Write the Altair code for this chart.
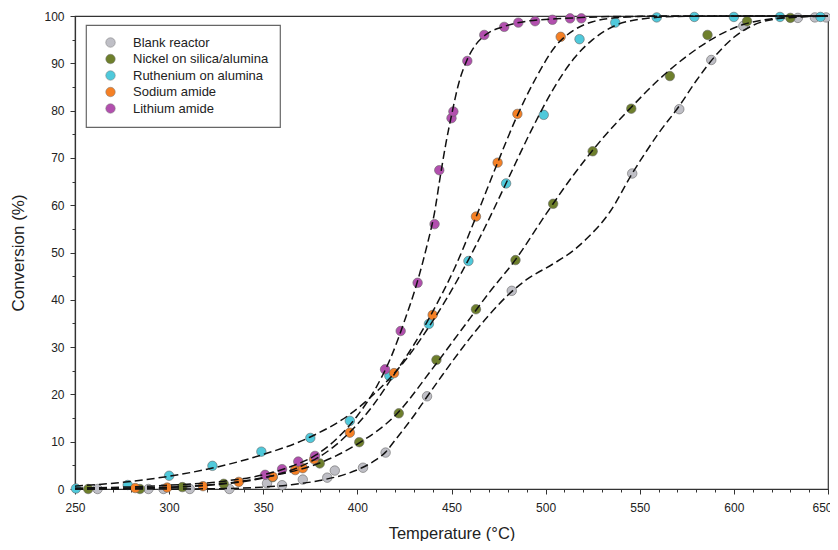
import altair as alt
import pandas as pd

FONT = "Liberation Sans"

series_names = ["Blank reactor", "Nickel on silica/alumina", "Ruthenium on alumina",
                "Sodium amide", "Lithium amide"]
series_colors = ["#BFBFC6", "#6E7F2C", "#4FC9DB", "#F58025", "#B24FAE"]

# measured points
blank_T = [262, 289, 297, 311, 332, 352, 360, 371, 384, 388, 403, 415, 437, 482, 546, 571, 588, 605, 634, 643, 649]
blank_C = [0.0, 0.0, 0.0, 0.0, 0.0, 1.2, 0.8, 2.0, 2.4, 3.9, 4.5, 7.7, 19.6, 41.9, 66.7, 80.3, 90.7, 97.9, 99.6, 99.7, 99.7]

nickel_T = [257, 284.5, 307, 329, 355, 380, 401, 422, 442, 463, 484, 504, 525, 545.5, 566, 586, 607, 630]
nickel_C = [0.0, 0.0, 0.4, 1.1, 2.5, 5.4, 9.9, 16.0, 27.3, 38.0, 48.4, 60.3, 71.4, 80.4, 87.3, 96.0, 98.9, 99.6]

ruth_T = [250.5, 278, 300, 323, 349, 375, 396, 417, 438, 459, 479, 499, 518, 537, 559, 579, 600, 624.5, 646]
ruth_C = [0.1, 0.85, 2.8, 4.9, 7.9, 10.8, 14.4, 23.9, 34.9, 48.2, 64.6, 79.1, 95.1, 98.6, 99.7, 99.8, 99.8, 99.8, 99.8]

sodium_T = [282, 299, 318, 337, 355, 367, 371, 377, 396, 419.5, 440, 463, 474.5, 485, 508]
sodium_C = [0.2, 0.3, 0.6, 1.5, 2.6, 4.0, 4.4, 6.3, 11.9, 24.5, 36.8, 57.6, 69.0, 79.3, 95.6]

lith_T = [351, 360, 368.6, 377.5, 414.7, 423, 432, 441, 443.5, 450, 451, 458.4, 467.4, 478, 485.5, 494.4, 503.6, 513, 519]
lith_C = [3.0, 4.2, 5.8, 7.0, 25.3, 33.4, 43.6, 56.0, 67.4, 78.4, 79.8, 90.5, 96.0, 97.7, 98.6, 98.9, 99.2, 99.5, 99.5]

# dashed fitted curves
blank_fit_T = [250, 300, 330, 350, 365, 380, 395, 403, 410, 415, 420, 430, 437, 445, 460, 470, 480, 490, 504, 515, 522, 534, 546, 560, 571, 580, 590, 600, 610, 625, 650]
blank_fit_C = [0, 0, 0.1, 0.4, 0.9, 1.8, 3.3, 4.6, 6.2, 7.8, 10.3, 15.5, 19.5, 24, 32, 36.8, 41, 44.3, 47.6, 50.5, 53, 58.5, 66.7, 75.2, 81, 86.3, 91.5, 95.5, 98, 99.5, 100]

nickel_fit_T = [250, 280, 305, 330, 355, 380, 400, 420, 440, 455, 470, 484, 500, 515, 530, 545, 560, 575, 590, 605, 620, 635, 650]
nickel_fit_C = [0, 0.1, 0.4, 1.2, 2.8, 5.5, 9.5, 15.5, 25.5, 33.5, 41.5, 48.5, 58, 66.5, 74, 80.5, 86.5, 91.5, 95.5, 98.2, 99.4, 99.9, 100]

ruth_fit_T = [250, 275, 300, 325, 350, 375, 395, 410, 425, 440, 455, 468, 480, 492, 504, 515, 525, 537, 550, 570, 600, 650]
ruth_fit_C = [0.6, 1.4, 2.7, 4.6, 7.3, 11, 15.5, 20.5, 27, 35.5, 45.5, 55.5, 65.5, 75.5, 84.5, 91, 95, 98, 99.3, 99.9, 100, 100]

sodium_fit_T = [250, 280, 300, 320, 340, 355, 370, 385, 396, 408, 420, 430, 440, 452, 463, 474, 485, 495, 505, 515, 525, 540, 560, 650]
sodium_fit_C = [0.05, 0.2, 0.4, 0.8, 1.6, 2.8, 4.8, 8.2, 12, 17.5, 24.5, 30.5, 37.5, 47, 57.5, 68.5, 79, 87, 93.5, 97, 98.8, 99.7, 100, 100]

lith_fit_T = [250, 300, 330, 350, 365, 378, 390, 400, 410, 418, 425, 432, 437, 441, 444, 447, 450, 454, 458, 463, 468, 478, 490, 510, 540, 650]
lith_fit_C = [0.2, 0.8, 1.7, 3.0, 4.8, 7.2, 11, 15.5, 21.5, 28, 35.5, 44, 51.5, 58.5, 66, 73, 79, 86, 90.5, 94, 96, 97.8, 98.9, 99.5, 99.9, 100]

pts = [(blank_T, blank_C), (nickel_T, nickel_C), (ruth_T, ruth_C), (sodium_T, sodium_C), (lith_T, lith_C)]
fits = [(blank_fit_T, blank_fit_C), (nickel_fit_T, nickel_fit_C), (ruth_fit_T, ruth_fit_C),
        (sodium_fit_T, sodium_fit_C), (lith_fit_T, lith_fit_C)]

rows = []
for name, (ts, cs) in zip(series_names, pts):
    for t, c in zip(ts, cs):
        rows.append({"series": name, "T": t, "C": c})
points_df = pd.DataFrame(rows)

rows = []
for name, (ts, cs) in zip(series_names, fits):
    for t, c in zip(ts, cs):
        rows.append({"series": name, "T": t, "C": c})
fit_df = pd.DataFrame(rows)

x_enc = alt.X(
    "T:Q",
    scale=alt.Scale(domain=[250, 650], nice=False, zero=False),
    axis=alt.Axis(
        title="Temperature (°C)",
        values=list(range(250, 651, 10)),
        labelExpr="datum.value % 50 === 0 ? datum.label : ''",
        tickSize={"condition": {"test": "datum.value % 50 === 0", "value": 5}, "value": 3},
        labelOffset={"condition": {"test": "datum.value === 650", "value": -6}, "value": 0},
        labelFlush=False, labelOverlap=False, grid=False,
        domainColor="#333", tickColor="#333", domainWidth=1.2,
        labelFont=FONT, labelFontSize=12, labelColor="#222", labelPadding=8,
        titleFont=FONT, titleFontSize=16.5, titleFontWeight="normal", titleColor="#222",
        titlePadding=12,
    ),
)
y_enc = alt.Y(
    "C:Q",
    scale=alt.Scale(domain=[0, 100], nice=False),
    axis=alt.Axis(
        title="Conversion (%)",
        values=list(range(0, 101, 5)),
        labelExpr="datum.value % 10 === 0 ? datum.label : ''",
        tickSize={"condition": {"test": "datum.value % 10 === 0", "value": 5}, "value": 3},
        labelOverlap=False, grid=False,
        domainColor="#333", tickColor="#333", domainWidth=1.2,
        labelFont=FONT, labelFontSize=12, labelColor="#222", labelPadding=6,
        titleFont=FONT, titleFontSize=17, titleFontWeight="normal", titleColor="#222",
        titlePadding=16,
    ),
)

points = alt.Chart(points_df).mark_circle(size=90, opacity=1, stroke="#666", strokeWidth=0.6).encode(
    x=x_enc,
    y=y_enc,
    color=alt.Color(
        "series:N",
        scale=alt.Scale(domain=series_names, range=series_colors),
        sort=series_names,
        legend=alt.Legend(
            title=None, orient="none", legendX=11, legendY=9, direction="vertical",
            symbolType="circle", symbolSize=90, symbolStrokeColor="#777", symbolStrokeWidth=0.5,
            symbolOpacity=1, labelFont=FONT, labelFontSize=13, labelColor="#222",
            padding=11, rowPadding=2.5, symbolOffset=7, labelOffset=16,
            strokeColor="#666", fillColor="white",
        ),
    ),
)

lines = alt.Chart(fit_df).mark_line(
    color="#111", strokeDash=[8, 4], strokeWidth=1.5, interpolate="monotone"
).encode(
    x=x_enc,
    y=y_enc,
    detail="series:N",
)

chart = alt.layer(points, lines).properties(
    width=753, height=473,
    padding={"left": 67, "top": 8, "right": 2, "bottom": 52},
    autosize=alt.AutoSizeParams(type="none"),
).configure_view(stroke="#333", strokeWidth=1.2).configure_legend(strokeWidth=1.2)

chart.save("out.html", embed_options={"renderer": "svg", "actions": False})
